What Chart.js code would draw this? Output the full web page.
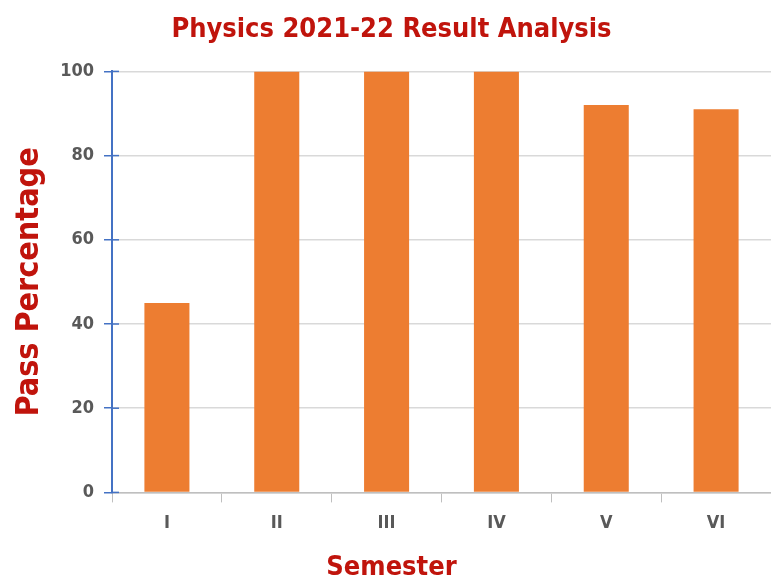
<!DOCTYPE html>
<html>
<head>
<meta charset="utf-8">
<script src="https://cdn.jsdelivr.net/npm/chart.js@4.4.1/dist/chart.umd.min.js"></script>
<style>
  html, body { margin: 0; padding: 0; background: #fff; }
  #wrap { width: 771px; height: 581px; }
</style>
</head>
<body>
<div id="wrap"><canvas id="resultChart" width="771" height="581"></canvas></div>
<script>
// Physics 2021-22 pass percentages per semester
const semesters = ["I", "II", "III", "IV", "V", "VI"]
const passPercent = [45, 100, 100, 100, 92, 91]
const yTicks = [0, 20, 40, 60, 80, 100]

const fontFamily = "'DejaVu Sans Condensed', 'Liberation Sans', sans-serif"
const darkRed = "#C0140C"

// small inward tick marks on the blue y axis
const innerTicks = {
  id: "innerTicks",
  afterDraw(chart) {
    const y = chart.scales.y
    const ctx = chart.ctx
    ctx.save()
    ctx.strokeStyle = "#4472C4"
    ctx.lineWidth = 1.5
    yTicks.forEach(v => {
      const py = y.getPixelForValue(v)
      ctx.beginPath()
      ctx.moveTo(chart.chartArea.left, py)
      ctx.lineTo(chart.chartArea.left + 7, py)
      ctx.stroke()
    })
    ctx.restore()
  }
}

new Chart(document.getElementById("resultChart"), {
  type: "bar",
  data: {
    labels: semesters,
    datasets: [{
      label: "Pass Percentage",
      data: passPercent,
      backgroundColor: "#ED7D31",
      barPercentage: 0.41,
      categoryPercentage: 1
    }]
  },
  options: {
    responsive: false,
    animation: false,
    layout: { padding: { left: 12, right: 0, top: 8, bottom: 0 } },
    plugins: {
      legend: { display: false },
      tooltip: { enabled: false },
      title: {
        display: true,
        text: "Physics 2021-22 Result Analysis",
        color: darkRed,
        font: { family: fontFamily, size: 27, weight: "bold" },
        padding: { top: 6, bottom: 25 }
      },
      subtitle: {
        display: true,
        position: "bottom",
        text: "Semester",
        color: darkRed,
        font: { family: fontFamily, size: 27, weight: "bold", lineHeight: 1.0 },
        padding: { top: 10, bottom: 0 }
      }
    },
    scales: {
      x: {
        grid: {
          offset: true,
          drawOnChartArea: false,
          tickLength: 10,
          color: "#BFBFBF"
        },
        border: { color: "#BFBFBF", width: 1.5 },
        ticks: {
          color: "#595959",
          font: { family: fontFamily, size: 18, weight: "bold" },
          padding: 10
        }
      },
      y: {
        min: 0,
        max: 100,
        afterBuildTicks(scale) {
          scale.ticks = yTicks.map(v => ({ value: v }))
        },
        grid: {
          color: "#D9D9D9",
          lineWidth: 1.5,
          tickColor: "#4472C4",
          tickLength: 8
        },
        border: { color: "#4472C4", width: 2 },
        ticks: {
          color: "#595959",
          font: { family: fontFamily, size: 18, weight: "bold" },
          padding: 10
        },
        title: {
          display: true,
          text: "Pass Percentage",
          color: darkRed,
          font: { family: fontFamily, size: 32, weight: "bold", lineHeight: 1.1 },
          padding: { top: 0, bottom: 3 }
        }
      }
    }
  },
  plugins: [innerTicks]
})
</script>
</body>
</html>
